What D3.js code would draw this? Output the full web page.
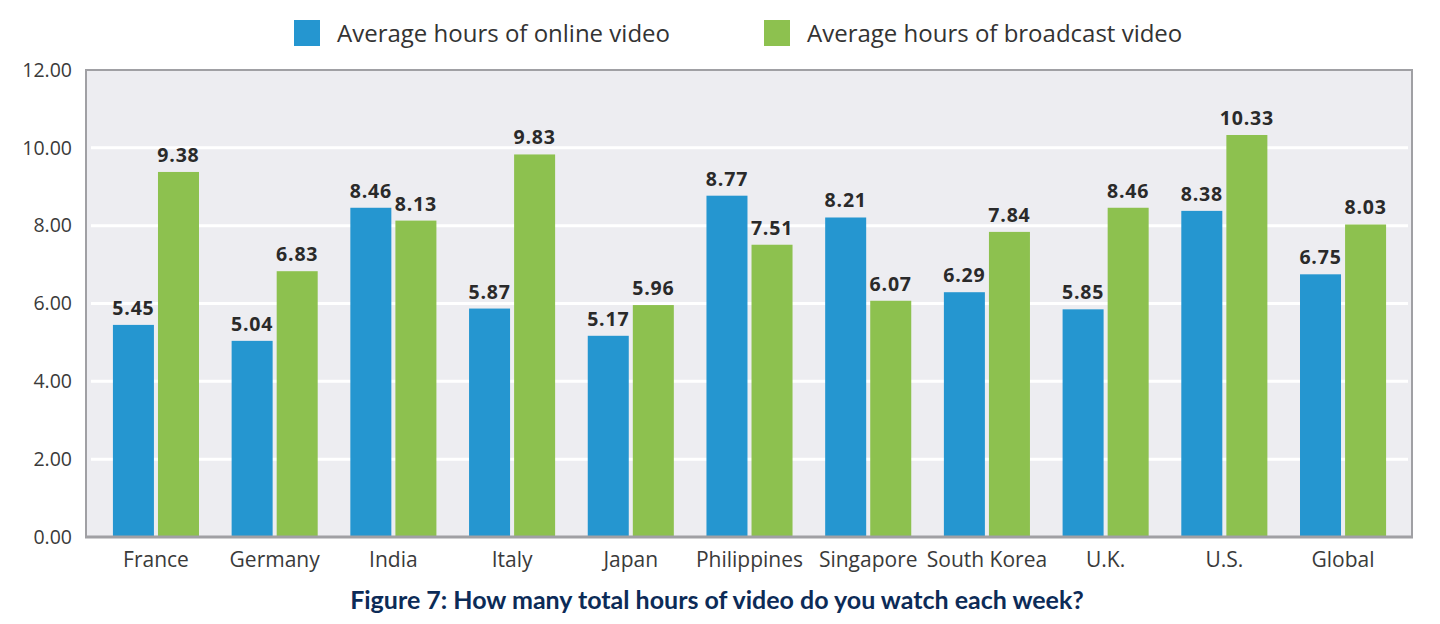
<!DOCTYPE html>
<html>
<head>
<meta charset="utf-8">
<script src="https://cdn.jsdelivr.net/npm/d3@7"></script>
<style>
  body { margin: 0; background: #fff; }
  text { font-family: "Open Sans", "Noto Sans", sans-serif; }
</style>
</head>
<body>
<div id="chart"></div>
<script>
const width = 1440;
const height = 624;

// data
const countries = ['France', 'Germany', 'India', 'Italy', 'Japan', 'Philippines', 'Singapore', 'South Korea', 'U.K.', 'U.S.', 'Global'];
const onlineHours = [5.45, 5.04, 8.46, 5.87, 5.17, 8.77, 8.21, 6.29, 5.85, 8.38, 6.75];
const broadcastHours = [9.38, 6.83, 8.13, 9.83, 5.96, 7.51, 6.07, 7.84, 8.46, 10.33, 8.03];
const seriesNames = ['Average hours of online video', 'Average hours of broadcast video'];
const seriesColors = ['#2596d0', '#8dc14f'];
const yTicks = [0, 2, 4, 6, 8, 10, 12];

const plot = { left: 86, right: 1412, top: 70, bottom: 537 };

const svg = d3.select('#chart')
    .append('svg')
    .attr('width', width)
    .attr('height', height);

const x = d3.scaleBand()
    .domain(countries)
    .range([96.6, 1402.4])
    .paddingInner(0.275)
    .paddingOuter(0.1375);

const xSeries = d3.scaleBand()
    .domain([0, 1])
    .range([0, x.bandwidth()])
    .paddingInner(0.09);

const y = d3.scaleLinear()
    .domain([0, 12])
    .range([plot.bottom, plot.top]);

// plot background
svg.append('rect')
    .attr('x', plot.left)
    .attr('y', plot.top)
    .attr('width', plot.right - plot.left)
    .attr('height', plot.bottom - plot.top)
    .attr('fill', '#ededf1');

// gridlines
svg.append('g')
    .selectAll('line')
    .data(yTicks.filter(d => d > 0 && d < 12))
    .enter()
    .append('line')
    .attr('x1', plot.left + 5)
    .attr('x2', plot.right - 4)
    .attr('y1', d => y(d))
    .attr('y2', d => y(d))
    .attr('stroke', '#fff')
    .attr('stroke-width', 3);

// bars
const rows = countries.map((c, i) => ({ country: c, values: [onlineHours[i], broadcastHours[i]] }));

const groups = svg.append('g')
    .selectAll('g')
    .data(rows)
    .enter()
    .append('g')
    .attr('transform', d => `translate(${x(d.country)},0)`);

groups.selectAll('rect')
    .data(d => d.values.map((v, s) => ({ v: v, s: s })))
    .enter()
    .append('rect')
    .attr('x', d => xSeries(d.s))
    .attr('y', d => y(d.v))
    .attr('width', xSeries.bandwidth())
    .attr('height', d => plot.bottom - y(d.v))
    .attr('fill', d => seriesColors[d.s]);

groups.selectAll('.valueLabel')
    .data(d => d.values.map((v, s) => ({ v: v, s: s })))
    .enter()
    .append('text')
    .attr('class', 'valueLabel')
    .attr('x', d => xSeries(d.s) + xSeries.bandwidth() / 2)
    .attr('y', d => y(d.v) - 10)
    .attr('text-anchor', 'middle')
    .attr('font-size', 19.5)
    .attr('font-weight', 'bold')
    .attr('letter-spacing', 0.8)
    .attr('fill', '#2a2a2a')
    .text(d => d.v.toFixed(2));

// plot border (left, top, right, bottom)
svg.append('path')
    .attr('d', `M${plot.left},${plot.bottom}V${plot.top}H${plot.right}V${plot.bottom}`)
    .attr('fill', 'none')
    .attr('stroke', '#a0a0a4')
    .attr('stroke-width', 2);
svg.append('line')
    .attr('x1', plot.left - 1)
    .attr('x2', plot.right + 1)
    .attr('y1', plot.bottom)
    .attr('y2', plot.bottom)
    .attr('stroke', '#a0a0a4')
    .attr('stroke-width', 3);

// y axis
const yAxis = svg.append('g')
    .attr('transform', `translate(${plot.left},0)`)
    .call(d3.axisLeft(y).tickValues(yTicks).tickFormat(d3.format('.2f')).tickSize(0).tickPadding(14));
yAxis.select('.domain').remove();
yAxis.selectAll('text')
    .attr('font-size', 19.5)
    .attr('fill', '#3a3a3a')
    .style('font-family', '"Open Sans", "Noto Sans", sans-serif');

// x axis
const xAxis = svg.append('g')
    .attr('transform', `translate(0,${plot.bottom})`)
    .call(d3.axisBottom(x).tickSize(0).tickPadding(15));
xAxis.select('.domain').remove();
xAxis.selectAll('text')
    .attr('font-size', 21)
    .attr('fill', '#3a3a3a')
    .style('font-family', '"Open Sans", "Noto Sans", sans-serif');

// legend
const legendX = [294, 764];
const legend = svg.append('g')
    .selectAll('g')
    .data(seriesNames)
    .enter()
    .append('g')
    .attr('transform', (d, i) => `translate(${legendX[i]},20)`);
legend.append('rect')
    .attr('width', 26)
    .attr('height', 26)
    .attr('fill', (d, i) => seriesColors[i]);
legend.append('text')
    .attr('x', 43)
    .attr('y', 22)
    .attr('font-size', 24)
    .attr('fill', '#333')
    .text(d => d);

// caption
svg.append('text')
    .attr('x', 717)
    .attr('y', 609)
    .attr('text-anchor', 'middle')
    .attr('font-size', 25)
    .attr('font-weight', 'bold')
    .attr('fill', '#0c2b57')
    .style('font-family', 'Lato, "Noto Sans", sans-serif')
    .text('Figure 7: How many total hours of video do you watch each week?');
</script>
</body>
</html>
